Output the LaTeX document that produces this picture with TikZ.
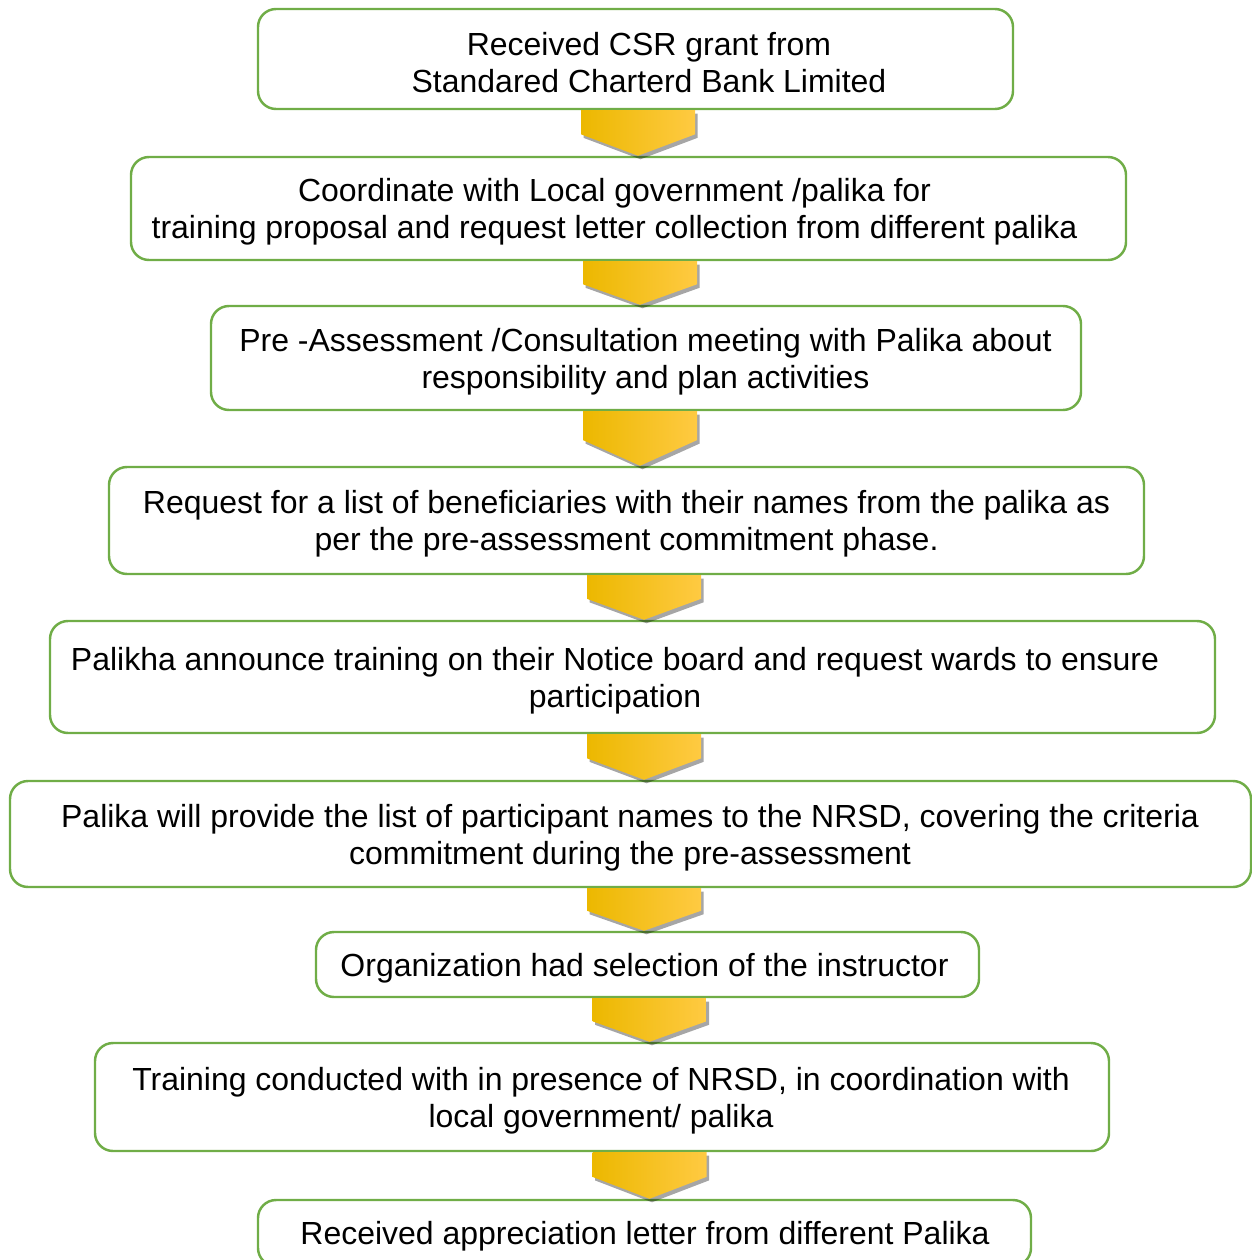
\documentclass[tikz,border=0pt]{standalone}
\usepackage{fontspec}
\setmainfont{Liberation Sans}
\usepackage{tikz}
\usetikzlibrary{calc}
\usetikzlibrary{shadows}

\definecolor{boxgreen}{RGB}{112,173,71}
\definecolor{goldL}{RGB}{236,184,0}
\definecolor{goldM}{RGB}{255,192,0}
\definecolor{goldR}{RGB}{255,202,66}

\tikzset{
  stepbox/.style={draw=boxgreen, line width=1.4pt, rounded corners=0.36cm, fill=white},
  steptext/.style={align=center, font=\fontsize{18.2}{21}\selectfont, inner sep=0pt, yshift=-0.07cm},
  chevfill/.style={left color=goldL, middle color=goldM, right color=goldR,
    drop shadow={shadow xshift=0.05cm, shadow yshift=-0.07cm, opacity=0.35, fill=black}}
}

% down chevron between two boxes: x-centre, upper box, lower box
\newcommand\flowchev[3]{%
  \shade[chevfill] let \p1=(#2.south), \p2=(#3.north) in
    ({#1cm-1.14cm},\y1) -- ({#1cm+1.14cm},\y1) -- ({#1cm+1.14cm},{0.47*\y1+0.53*\y2})
    -- ({#1cm},\y2) -- ({#1cm-1.14cm},{0.47*\y1+0.53*\y2}) -- cycle;}

\begin{document}
\begin{tikzpicture}
   \useasboundingbox (0,0) rectangle (25.04,-25.2);

   % boxes
   \node [stepbox, minimum width=15.10cm, minimum height=2.00cm] (s1) at (12.71, -1.18) {};
   \node [stepbox, minimum width=19.90cm, minimum height=2.06cm] (s2) at (12.57, -4.17) {};
   \node [stepbox, minimum width=17.40cm, minimum height=2.08cm] (s3) at (12.92, -7.16) {};
   \node [stepbox, minimum width=20.70cm, minimum height=2.14cm] (s4) at (12.53,-10.41) {};
   \node [stepbox, minimum width=23.30cm, minimum height=2.24cm] (s5) at (12.65,-13.54) {};
   \node [stepbox, minimum width=24.82cm, minimum height=2.12cm] (s6) at (12.61,-16.68) {};
   \node [stepbox, minimum width=13.26cm, minimum height=1.30cm] (s7) at (12.95,-19.29) {};
   \node [stepbox, minimum width=20.28cm, minimum height=2.16cm] (s8) at (12.04,-21.94) {};
   \node [stepbox, minimum width=15.46cm, minimum height=1.32cm] (s9) at (12.89,-24.66) {};

   % texts
   \node [steptext] (t1) at (12.98, -1.18) {Received CSR grant from\\Standared Charterd Bank Limited};
   \node [steptext] (t2) at (12.29, -4.17) {Coordinate with Local government /palika for\\training proposal and request letter collection from different palika};
   \node [steptext] (t3) at (12.91, -7.16) {Pre -Assessment /Consultation meeting with Palika about\\responsibility and plan activities};
   \node [steptext] (t4) at (12.53,-10.41) {Request for a list of beneficiaries with their names from the palika as\\per the pre-assessment commitment phase.};
   \node [steptext] (t5) at (12.30,-13.54) {Palikha announce training on their Notice board and request wards to ensure\\participation};
   \node [steptext] (t6) at (12.60,-16.68) {Palika will provide the list of participant names to the NRSD, covering the criteria\\commitment during the pre-assessment};
   \node [steptext] (t7) at (12.89,-19.29) {Organization had selection of the instructor};
   \node [steptext] (t8) at (12.02,-21.94) {Training conducted with in presence of NRSD, in coordination with\\local government/ palika};
   \node [steptext] (t9) at (12.90,-24.66) {Received appreciation letter from different Palika};

   % arrows
   \flowchev{12.76}{s1}{s2}
   \flowchev{12.80}{s2}{s3}
   \flowchev{12.80}{s3}{s4}
   \flowchev{12.88}{s4}{s5}
   \flowchev{12.88}{s5}{s6}
   \flowchev{12.88}{s6}{s7}
   \flowchev{12.99}{s7}{s8}
   \flowchev{12.99}{s8}{s9}
\end{tikzpicture}
\end{document}
